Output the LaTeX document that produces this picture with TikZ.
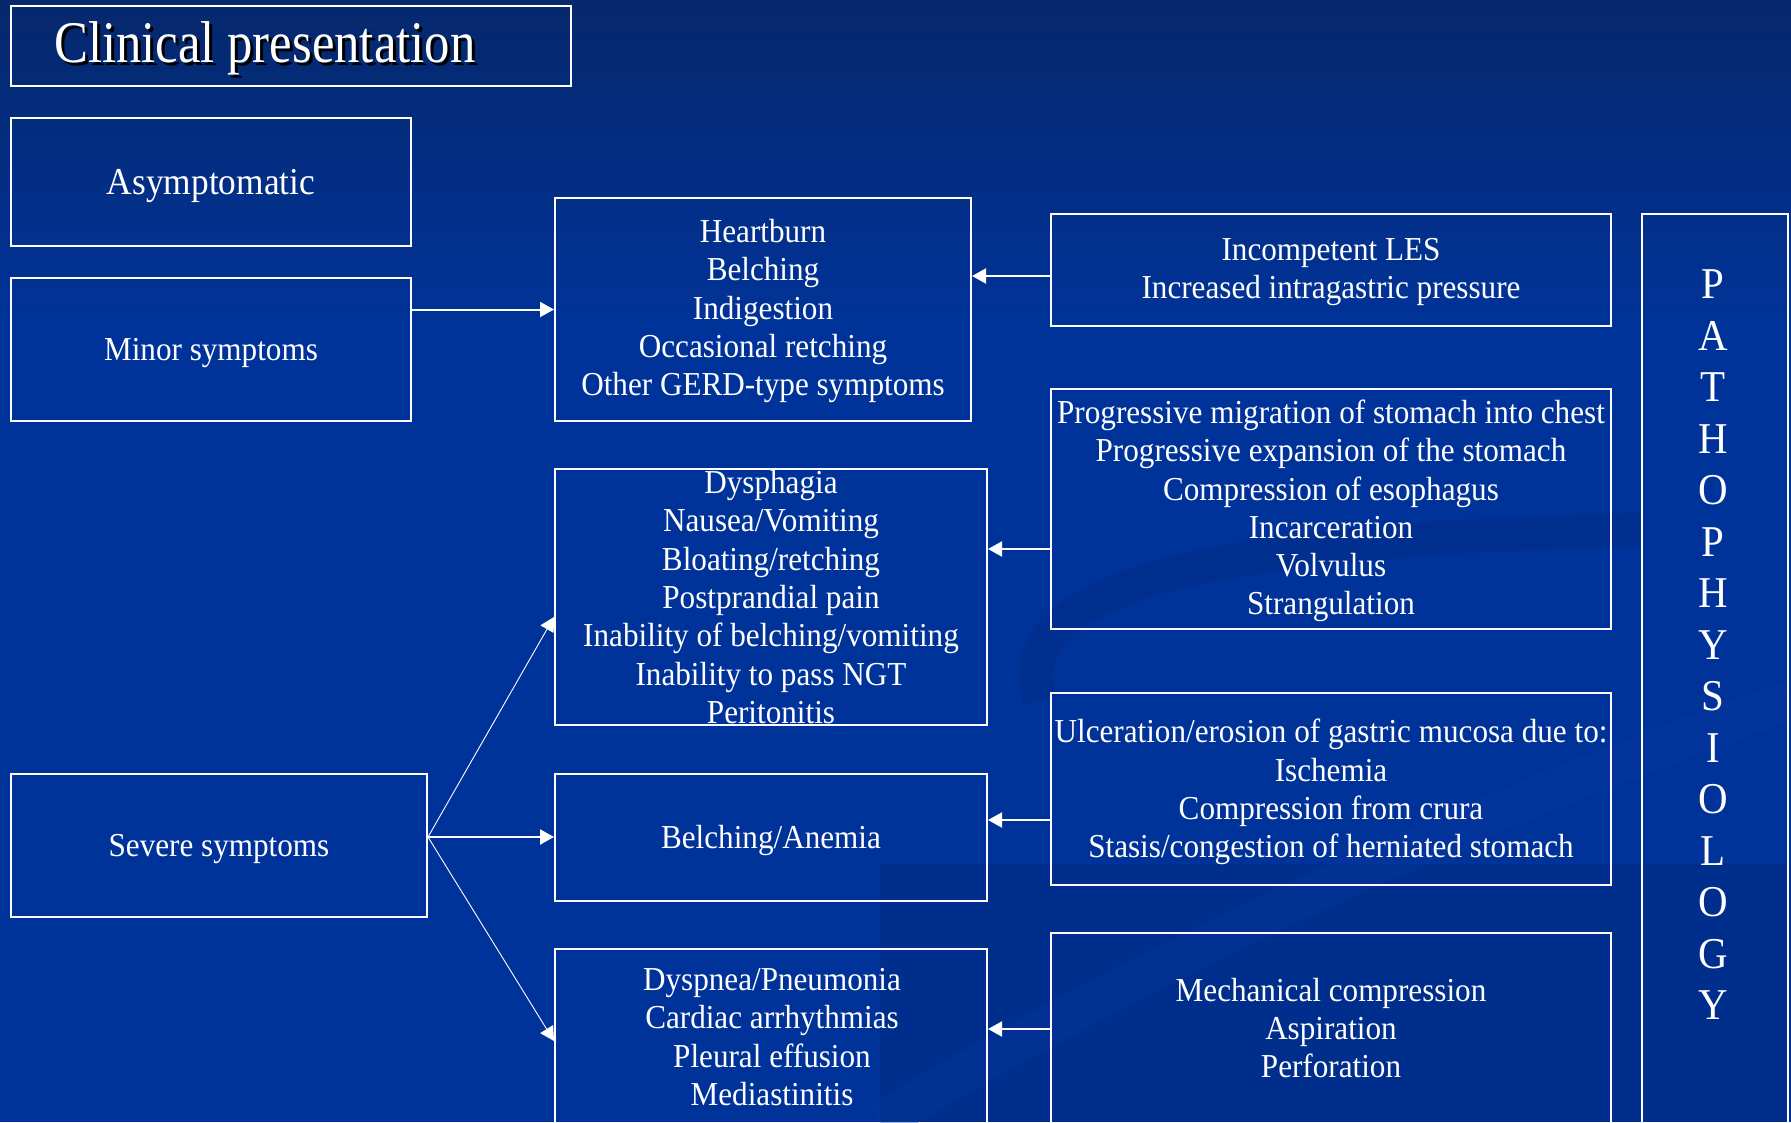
\documentclass[tikz,border=0pt]{standalone}
\usepackage{fontspec}
\usetikzlibrary{arrows.meta,calc}
\newfontfamily\bodyfont[FakeStretch=0.93]{Liberation Serif}
\newfontfamily\ttlfont[FakeStretch=0.86]{Liberation Serif}
\definecolor{bgblue}{HTML}{003399}
\definecolor{bgdark}{HTML}{06286C}
\definecolor{bgshade}{HTML}{002E8C}
\definecolor{bglight}{HTML}{0638A2}
\begin{document}
\begin{tikzpicture}[x=1pt,y=-1pt,
  box/.style={draw=white,line width=2pt,inner sep=0pt},
  lbl/.style={text=white,align=center,inner sep=0pt,font=\bodyfont\fontsize{33.5}{38.3}\selectfont},
  arr/.style={white,line width=2pt,-{Triangle[length=14pt,width=15pt]}},
  thinarr/.style={white,line width=0.9pt,-{Triangle[length=14pt,width=15pt]}}]
\clip (0,0) rectangle (1791,1122);
% background
\fill[bgblue] (0,0) rectangle (1791,1122);
\shade[top color=bgdark,bottom color=bgblue] (0,0) rectangle (1791,330);
\fill[bgshade] (880,864) rectangle (1791,1122);
\draw[bgshade,line width=34pt,opacity=0.7] (1040,700) .. controls (1010,600) and (1150,540) .. (1640,530);
\draw[bglight,line width=40pt,opacity=0.35] (880,1122) .. controls (1150,960) and (1450,820) .. (1791,700);
% title
\node[box,minimum width=560pt,minimum height=80pt] (titlebox) at (291,46) {};
\node[anchor=base west,inner sep=0pt,text=black,font=\ttlfont\fontsize{59}{59}\selectfont] (titleshadow) at (57,65) {Clinical presentation};
\node[anchor=base west,inner sep=0pt,text=white,font=\ttlfont\fontsize{59}{59}\selectfont] (titletext) at (54,62) {Clinical presentation};
% boxes
\node[box,minimum width=400pt,minimum height=128pt] (asym) at (211,182) {};
\node[box,minimum width=400pt,minimum height=143pt] (minor) at (211,349.5) {};
\node[box,minimum width=416pt,minimum height=143pt] (severe) at (219,845.5) {};
\node[box,minimum width=416pt,minimum height=223pt] (heart) at (763,309.5) {};
\node[box,minimum width=432pt,minimum height=256pt] (dysph) at (771,597) {};
\node[box,minimum width=432pt,minimum height=127pt] (belan) at (771,837.5) {};
\node[box,minimum width=432pt,minimum height=191pt] (dyspn) at (771,1044.5) {};
\node[box,minimum width=560pt,minimum height=112pt] (incomp) at (1331,270) {};
\node[box,minimum width=560pt,minimum height=240pt] (progr) at (1331,509) {};
\node[box,minimum width=560pt,minimum height=192pt] (ulcer) at (1331,789) {};
\node[box,minimum width=560pt,minimum height=207pt] (mech) at (1331,1036.5) {};
\node[box,minimum width=146pt,minimum height=926pt] (patho) at (1715,677) {};
% labels
\node[lbl,font=\bodyfont\fontsize{38}{44}\selectfont] (asymt) at (211,186.5) {Asymptomatic};
\node[lbl] (minort) at (211,353.5) {Minor symptoms};
\node[lbl] (severet) at (219,849.5) {Severe symptoms};
\node[lbl] (heartt) at (763,311) {Heartburn\\Belching\\Indigestion\\Occasional retching\\Other GERD-type symptoms};
\node[lbl] (dyspht) at (771,597) {Dysphagia\\Nausea/Vomiting\\Bloating/retching\\Postprandial pain\\Inability of belching/vomiting\\Inability to pass NGT\\Peritonitis};
\node[lbl] (belant) at (771,840) {Belching/Anemia};
\node[lbl] (dyspnt) at (772,1037) {Dyspnea/Pneumonia\\Cardiac arrhythmias\\Pleural effusion\\Mediastinitis};
\node[lbl] (incompt) at (1331,272) {Incompetent LES\\Increased intragastric pressure};
\node[lbl] (progrt) at (1331,511) {Progressive migration of stomach into chest\\Progressive expansion of the stomach\\Compression of esophagus\\Incarceration\\Volvulus\\Strangulation};
\node[lbl] (ulcert) at (1331,792) {Ulceration/erosion of gastric mucosa due to:\\Ischemia\\Compression from crura\\Stasis/congestion of herniated stomach};
\node[lbl] (mecht) at (1331,1028) {Mechanical compression\\Aspiration\\Perforation};
\node[lbl,font=\bodyfont\fontsize{44}{51.5}\selectfont] (pathot) at (1713,645) {P\\A\\T\\H\\O\\P\\H\\Y\\S\\I\\O\\L\\O\\G\\Y};
% connectors
\draw[arr] (minor.east |- heart.west) -- (heart.west);
\draw[arr] ([yshift=-6pt]incomp.west) -- ([yshift=-6pt]incomp.west -| heart.east);
\draw[arr] ([yshift=-40pt]progr.west) -- ([yshift=-40pt]progr.west -| dysph.east);
\draw[arr] ([yshift=-31pt]ulcer.west) -- ([yshift=-31pt]ulcer.west -| belan.east);
\draw[arr] ([yshift=7.5pt]mech.west) -- ([yshift=7.5pt]mech.west -| dyspn.east);
\coordinate (sv) at ([yshift=8.5pt]severe.east);
\draw[arr] (sv) -- (sv -| belan.west);
\draw[thinarr] (sv) -- ([yshift=-20pt]dysph.west);
\draw[thinarr] (sv) -- ([yshift=3.5pt]dyspn.west);
\end{tikzpicture}
\end{document}
